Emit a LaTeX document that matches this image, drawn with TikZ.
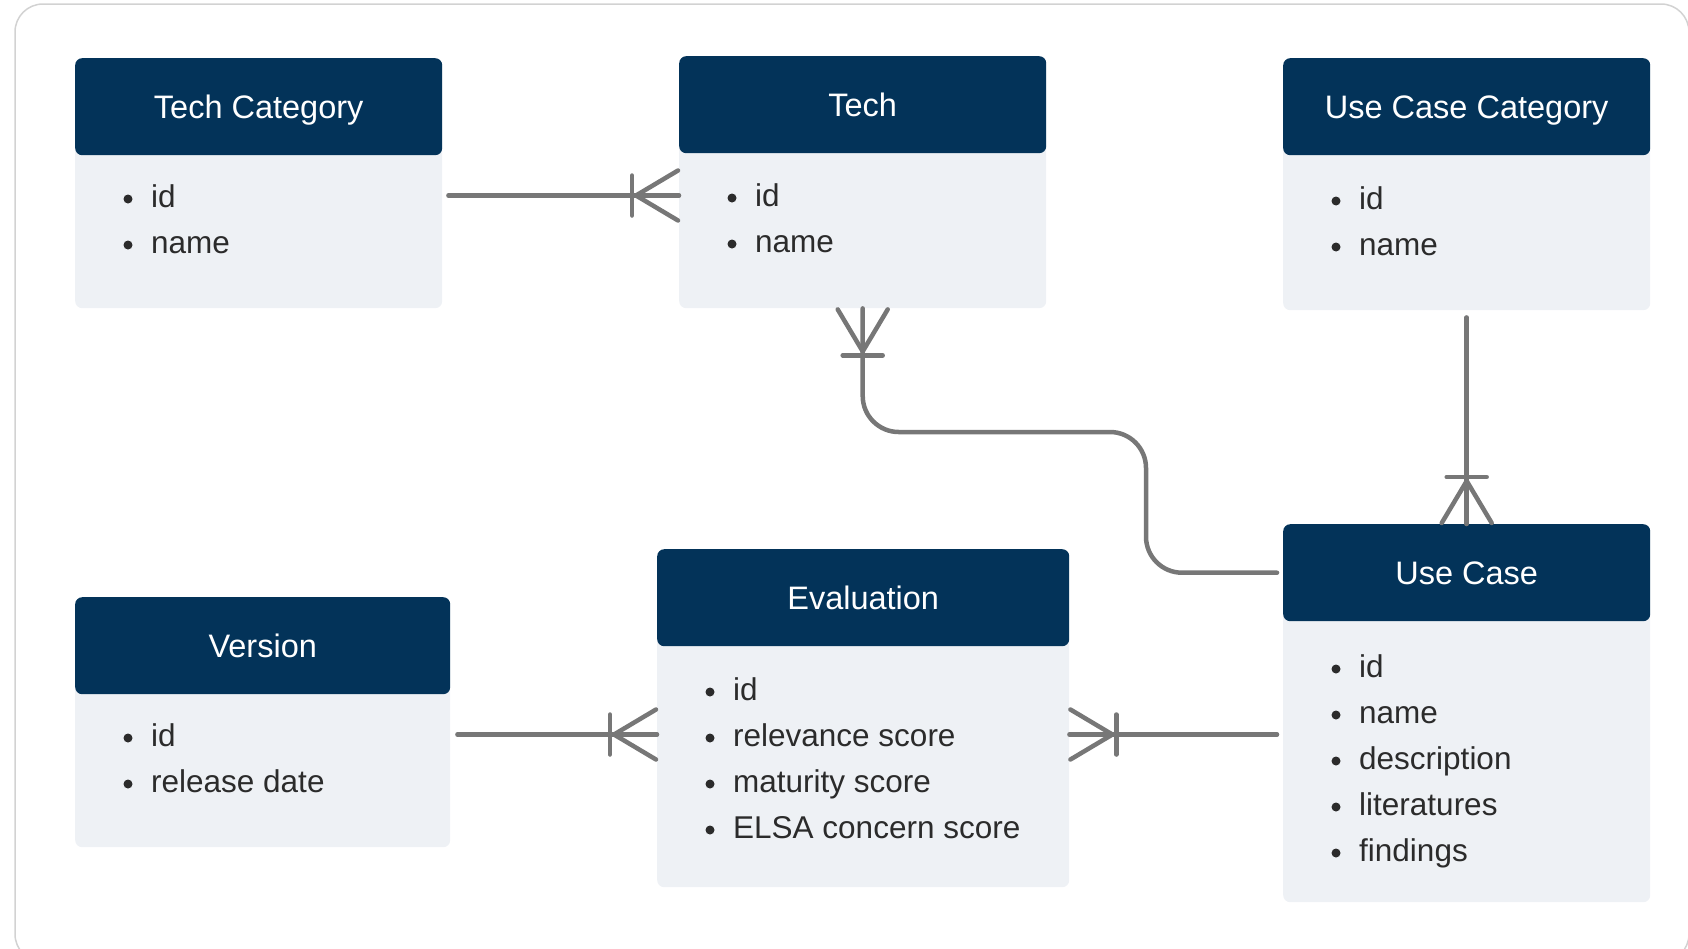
\documentclass[tikz,border=0pt]{standalone}
\usepackage{fontspec}
\setmainfont{Liberation Sans}
\definecolor{navy}{HTML}{033359}
\definecolor{bodygray}{HTML}{EEF1F5}
\definecolor{linkgray}{HTML}{777777}
\definecolor{txt}{HTML}{2B2B2B}
\definecolor{framegray}{HTML}{D2D2D2}
\tikzset{
    body/.style={fill=bodygray, rounded corners=7pt, anchor=north west, inner sep=0pt},
    head/.style={fill=navy, text=white, rounded corners=7pt, anchor=north west, inner sep=0pt,
        minimum height=97pt, text height=23pt, text depth=0pt, font=\fontsize{32.5}{38}\selectfont},
    item/.style={anchor=west, inner sep=0pt, text=txt, text height=23pt, text depth=0pt,
        font=\fontsize{31.5}{37}\selectfont},
    link/.style={draw=linkgray, line width=4.5pt, line cap=round, line join=round},
}
% crow's foot (one or many), tip at #1, box in direction #2
\newcommand{\crowfoot}[2]{%
    \begin{scope}[shift={(#1)}, rotate=#2]
        \draw[link] (-47,-20) -- (-47,20);
        \draw[link] (-1,-25) -- (-43,0) -- (-1,25);
    \end{scope}}
\begin{document}
\begin{tikzpicture}[x=1pt,y=-1pt]
    \useasboundingbox (0,0) rectangle (1688,948);
    \draw[framegray, line width=1.5pt, rounded corners=28pt] (15,4) rectangle (1689,962);

    % entities
    \foreach \n/\x/\y/\w/\h/\t in {tc/75/58/367/250/Tech Category, tech/679/56/367/252/Tech,
        ucc/1283/58/367/252/Use Case Category, ver/75/597/375/250/Version,
        eval/657/549/412/338/Evaluation, uc/1283/524/367/378/Use Case} {
        \node[body, minimum width=\w pt, minimum height=\h pt] (\n) at (\x,\y) {};
        \node[head, minimum width=\w pt] (\n-h) at (\x,\y) {\t};
    }

    % attributes
    \foreach \n/\x/\y/\items in {tc/75/207/{id,name}, tech/679/206/{id,name},
        ucc/1283/209/{id,name}, ver/75/746/{id,release date},
        eval/657/700/{id,relevance score,maturity score,ELSA concern score},
        uc/1283/677/{id,name,description,literatures,findings}} {
        \foreach \t [count=\i] in \items {
            \node[item] (\n-\i) at ({\x+76},{\y-11.5+46*(\i-1)}) {\t};
            \fill[txt] ({\x+53},{\y-8+46*(\i-1)}) circle (4.5pt);
        }
    }

    % relations
    \draw[link, shorten <=6pt] (tc.east |- tc-1.west) -- (tech.west |- tc-1.west);
    \crowfoot{tech.west |- tc-1.west}{0}

    \coordinate (bend) at (1146,432);
    \draw[link, rounded corners=36pt, shorten >=6pt] (tech.south) |- (bend) |- (uc-h.west);
    \crowfoot{tech.south}{90}

    \draw[link, shorten <=7pt] (ucc.south) -- (uc.north);
    \crowfoot{uc.north}{-90}

    \draw[link, shorten <=7pt] (ver.east |- ver-1.west) -- (eval.west |- ver-1.west);
    \crowfoot{eval.west |- ver-1.west}{0}

    \draw[link, shorten >=6pt] (eval.east |- eval-2.west) -- (uc.west |- eval-2.west);
    \crowfoot{eval.east |- eval-2.west}{180}

\end{tikzpicture}
\end{document}
